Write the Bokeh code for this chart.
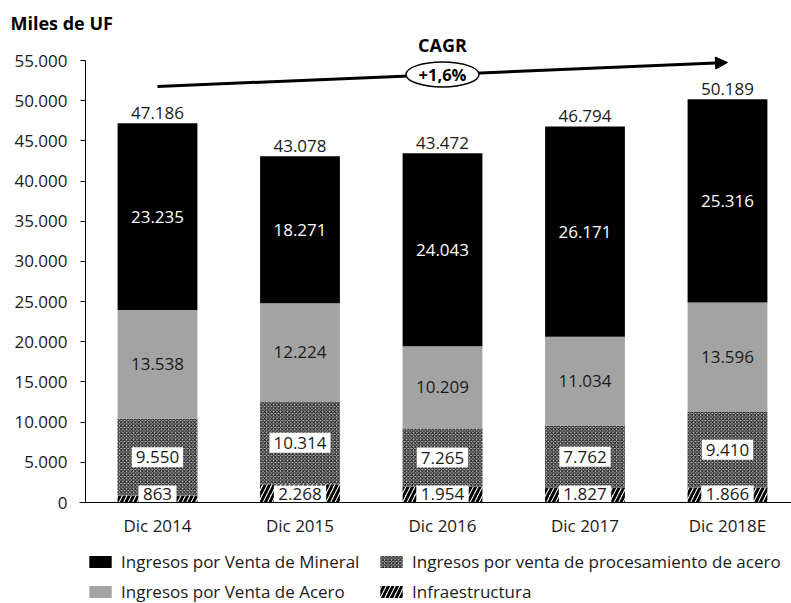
from bokeh.plotting import figure
from bokeh.models import (Range1d, FixedTicker, ColumnDataSource, LabelSet, Label,
                          Legend, LegendItem, Arrow, NormalHead)
from bokeh.core.properties import value
from bokeh.embed import file_html
from bokeh.resources import INLINE

# ---- data ----
years = ["Dic 2014", "Dic 2015", "Dic 2016", "Dic 2017", "Dic 2018E"]
infraestructura = [863, 2268, 1954, 1827, 1866]
procesamiento = [9550, 10314, 7265, 7762, 9410]
acero = [13538, 12224, 10209, 11034, 13596]
mineral = [23235, 18271, 24043, 26171, 25316]
totales = [47186, 43078, 43472, 46794, 50189]
y_ticks = list(range(0, 55001, 5000))
cagr_text = "+1,6%"
cagr_start = 51770
cagr_end = 54750

# ---- layout (pixels) ----
WIDTH, HEIGHT = 791, 603
X0_PX, STEP_PX = 157, 142.5          # first category centre, category spacing
Y0_PX, YTOP_PX, YMAX = 502, 60, 55000  # pixel rows of 0 and of YMAX
K = (Y0_PX - YTOP_PX) / YMAX           # px per unit
AXIS_X_PX = 85


def px_to_x(px):
    return (px - X0_PX) / STEP_PX


def py_to_y(py):
    return (Y0_PX - py) / K


FONT = "Open Sans"
TXT = "#1a1a1a"
FS = "17px"


def fmt(v):
    return f"{v:,}".replace(",", ".")


def box_w(s, pad):
    return sum(4.6 if c == "." else 9.7 for c in s) + 2 * pad


xs = list(range(len(years)))
b1 = infraestructura
b2 = [a + b for a, b in zip(b1, procesamiento)]
b3 = [a + b for a, b in zip(b2, acero)]
b4 = [a + b for a, b in zip(b3, mineral)]

p = figure(width=WIDTH, height=HEIGHT, output_backend="svg", toolbar_location=None,
           x_range=Range1d(px_to_x(0), px_to_x(WIDTH)),
           y_range=Range1d(py_to_y(HEIGHT), py_to_y(0)),
           min_border=0)
p.xgrid.visible = False
p.ygrid.visible = False
p.outline_line_color = None
p.background_fill_color = "white"
p.border_fill_color = "white"

# axes
ya = p.yaxis[0]
ya.fixed_location = px_to_x(AXIS_X_PX)
ya.bounds = (0, YMAX)
ya.ticker = FixedTicker(ticks=y_ticks)
ya.major_label_overrides = {t: fmt(t) for t in y_ticks}
ya.minor_tick_line_color = None
ya.major_tick_in = 0
ya.major_tick_out = 5
ya.major_label_standoff = 13
ya.axis_line_color = "black"
ya.major_tick_line_color = "black"
ya.major_label_text_font = FONT
ya.major_label_text_font_size = FS
ya.major_label_text_color = TXT

xa = p.xaxis[0]
xa.fixed_location = 0
xa.bounds = (px_to_x(79), px_to_x(WIDTH))
xa.ticker = FixedTicker(ticks=xs)
xa.major_label_overrides = {i: y for i, y in enumerate(years)}
xa.minor_tick_line_color = None
xa.major_tick_in = 0
xa.major_tick_out = 0
xa.major_label_standoff = 11
xa.axis_line_color = "black"
xa.major_label_text_font = FONT
xa.major_label_text_font_size = FS
xa.major_label_text_color = TXT

W = 0.56
r_inf = p.vbar(x=xs, width=W, bottom=0, top=b1, fill_color="white", line_color=None,
               hatch_pattern="/", hatch_color="black", hatch_weight=3, hatch_scale=9)
r_proc = p.vbar(x=xs, width=W, bottom=b1, top=b2, fill_color="#b8b8b8", line_color=None,
                hatch_pattern="x", hatch_color="#111111", hatch_weight=1, hatch_scale=3.5)
r_ac = p.vbar(x=xs, width=W, bottom=b2, top=b3, fill_color="#a3a3a3", line_color=None)
r_min = p.vbar(x=xs, width=W, bottom=b3, top=b4, fill_color="black", line_color=None)

t_inf = [fmt(v) for v in infraestructura]
t_proc = [fmt(v) for v in procesamiento]
y_proc = [(a + b) / 2 for a, b in zip(b1, b2)]
inf_box_y = py_to_y(493.5)  # centre of the white label boxes at the bottom

# white boxes behind labels
p.rect(x=xs, y=y_proc, width=[box_w(s, 4) for s in t_proc], height=20,
       width_units="screen", height_units="screen", fill_color="white", line_color=None)
p.rect(x=xs, y=[inf_box_y] * len(xs), width=[box_w(s, 4.5) for s in t_inf], height=17,
       width_units="screen", height_units="screen", fill_color="white", line_color=None)

src = ColumnDataSource(dict(
    x=xs,
    y_inf=[inf_box_y] * len(xs),
    y_proc=y_proc,
    y_ac=[(a + b) / 2 for a, b in zip(b2, b3)],
    y_min=[(a + b) / 2 for a, b in zip(b3, b4)],
    y_tot=b4,
    t_inf=t_inf,
    t_proc=t_proc,
    t_ac=[fmt(v) for v in acero],
    t_min=[fmt(v) for v in mineral],
    t_tot=[fmt(v) for v in totales],
))

common = dict(source=src, x="x", text_align="center", text_font=value(FONT),
              text_font_size=value(FS))
p.add_layout(LabelSet(y="y_min", text="t_min", text_baseline="middle",
                      text_color="white", **common))
p.add_layout(LabelSet(y="y_ac", text="t_ac", text_baseline="middle",
                      text_color=TXT, **common))
p.add_layout(LabelSet(y="y_proc", text="t_proc", text_baseline="middle",
                      text_color=TXT, **common))
p.add_layout(LabelSet(y="y_inf", text="t_inf", text_baseline="middle",
                      text_color=TXT, **common))
p.add_layout(LabelSet(y="y_tot", text="t_tot", text_baseline="bottom", y_offset=4,
                      text_color=TXT, **common))

# CAGR arrow
arrow = Arrow(x_start=xs[0], y_start=cagr_start, x_end=xs[-1], y_end=cagr_end,
              line_width=3, line_color="black",
              end=NormalHead(size=12, fill_color="black", line_color="black"))
arrow.level = "underlay"
p.add_layout(arrow)
mid_x = (xs[0] + xs[-1]) / 2
mid_y = (cagr_start + cagr_end) / 2
p.ellipse(x=[mid_x], y=[mid_y], width=[73], height=[25], width_units="screen",
          height_units="screen", fill_color="white", line_color="black", line_width=1.5)
p.add_layout(Label(x=mid_x, y=mid_y, text=cagr_text, text_align="center",
                   text_baseline="middle", text_font=FONT, text_font_size="16.5px",
                   text_font_style="bold", text_color="black"))
p.add_layout(Label(x=mid_x, y=py_to_y(44), text="CAGR", text_align="center",
                   text_baseline="middle", text_font=FONT, text_font_size="18px",
                   text_font_style="bold", text_color="black"))
p.add_layout(Label(x=px_to_x(10), y=py_to_y(22), text="Miles de UF", text_align="left",
                   text_baseline="middle", text_font=FONT, text_font_size="18px",
                   text_font_style="bold", text_color="black"))

# legends
leg_common = dict(orientation="vertical", glyph_width=28, glyph_height=15,
                  label_height=22, spacing=7, padding=0, margin=0,
                  border_line_color=None, background_fill_alpha=0,
                  label_text_font=FONT, label_text_font_size=FS,
                  label_text_color=TXT, label_standoff=7)
leg1 = Legend(items=[LegendItem(label="Ingresos por Venta de Mineral", renderers=[r_min]),
                     LegendItem(label="Ingresos por Venta de Acero", renderers=[r_ac])],
              location=(86, 0), **leg_common)
leg2 = Legend(items=[LegendItem(label="Ingresos por venta de procesamiento de acero", renderers=[r_proc]),
                     LegendItem(label="Infraestructura", renderers=[r_inf])],
              location=(377, 0), **leg_common)
p.add_layout(leg1)
p.add_layout(leg2)

open("out.html", "w").write(file_html(p, INLINE))
